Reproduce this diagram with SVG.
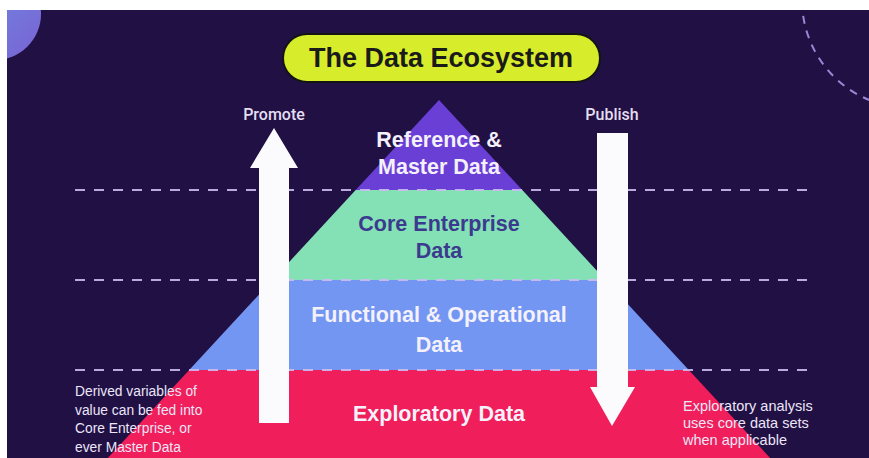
<svg xmlns="http://www.w3.org/2000/svg" width="869" height="458" viewBox="0 0 869 458">
  <style>
    .band-title { font-family: "Liberation Sans", Arial, sans-serif; font-weight: bold; font-size: 21.5px; text-anchor: middle; }
    .light { fill: #f4f1fb; }
    .label { font-family: Roboto, "Liberation Sans", sans-serif; font-weight: 500; font-size: 16px; fill: #e4def2; text-anchor: middle; }
    .note { font-family: "Liberation Sans", Arial, sans-serif; font-size: 13.8px; fill: #ece6f8; }
    .note-r { font-size: 14.5px; }
    .guide { stroke: #cbbdf0; stroke-width: 2; stroke-dasharray: 10 9; fill: none; opacity: 0.9; }
    .block-arrow { fill: #fbfbfd; }
  </style>
  <defs>
    <clipPath id="canvas">
      <rect x="7" y="10" width="862" height="448"/>
    </clipPath>
    <linearGradient id="orb" x1="0" y1="0" x2="1" y2="1">
      <stop offset="0" stop-color="#6b93e4"/>
      <stop offset="1" stop-color="#7a62d4"/>
    </linearGradient>
  </defs>

  <!-- page margin and dark panel -->
  <rect width="869" height="458" fill="#ffffff"/>
  <rect x="7" y="10" width="862" height="448" fill="#211044"/>

  <!-- decorative shapes -->
  <g clip-path="url(#canvas)">
    <circle cx="-5" cy="14" r="46" fill="url(#orb)"/>
    <circle cx="910" cy="0" r="108" fill="none" stroke="#9a88d6" stroke-width="2" stroke-dasharray="8 7"/>
  </g>

  <!-- title -->
  <g id="title">
    <rect x="283" y="34" width="317" height="48" rx="24" fill="#d7ec2b" stroke="#141414" stroke-width="2"/>
    <text x="441" y="67" font-family="Liberation Sans, Arial, sans-serif" font-weight="bold" font-size="27" fill="#1a1a1a" text-anchor="middle">The Data Ecosystem</text>
  </g>

  <!-- pyramid layers -->
  <g id="layer-reference">
    <polygon points="439,100 522.3,190 355.7,190" fill="#6a3fd6"/>
    <text class="band-title light" x="439" y="147">Reference &amp;</text>
    <text class="band-title light" x="439" y="174">Master Data</text>
  </g>
  <g id="layer-core">
    <polygon points="355.7,190 522.3,190 605.5,280 272.5,280" fill="#84e1b5"/>
    <text class="band-title" x="439" y="231" fill="#3b3a8e">Core Enterprise</text>
    <text class="band-title" x="439" y="258" fill="#3b3a8e">Data</text>
  </g>
  <g id="layer-functional">
    <polygon points="272.5,280 605.5,280 688.8,370 189.2,370" fill="#7396f3"/>
    <text class="band-title light" x="439" y="322">Functional &amp; Operational</text>
    <text class="band-title light" x="439" y="352">Data</text>
  </g>
  <g id="layer-exploratory">
    <polygon points="189.2,370 688.8,370 770.2,458 107.8,458" fill="#f01e5a"/>
    <text class="band-title light" x="439" y="421" font-size="22">Exploratory Data</text>
  </g>

  <!-- tier separators -->
  <g id="separators">
    <line class="guide" x1="75" y1="190" x2="815" y2="190"/>
    <line class="guide" x1="75" y1="280" x2="815" y2="280"/>
    <line class="guide" x1="75" y1="370" x2="815" y2="370"/>
  </g>

  <!-- flow arrows -->
  <g id="connectors">
    <g id="promote">
      <polygon class="block-arrow" points="274,128 298,168 289,168 289,423 259,423 259,168 250,168"/>
      <text class="label" x="274" y="120">Promote</text>
    </g>
    <g id="publish">
      <polygon class="block-arrow" points="597,133 628,133 628,387 635,387 612,426 590,387 597,387"/>
      <text class="label" x="612" y="120">Publish</text>
    </g>
  </g>

  <!-- side notes -->
  <g id="note-left">
    <text class="note" x="75" y="396">Derived variables of</text>
    <text class="note" x="75" y="414.5">value can be fed into</text>
    <text class="note" x="75" y="433">Core Enterprise, or</text>
    <text class="note" x="75" y="451.5">ever Master Data</text>
  </g>
  <g id="note-right">
    <text class="note note-r" x="683" y="411">Exploratory analysis</text>
    <text class="note note-r" x="683" y="428">uses core data sets</text>
    <text class="note note-r" x="683" y="445">when applicable</text>
  </g>
</svg>
